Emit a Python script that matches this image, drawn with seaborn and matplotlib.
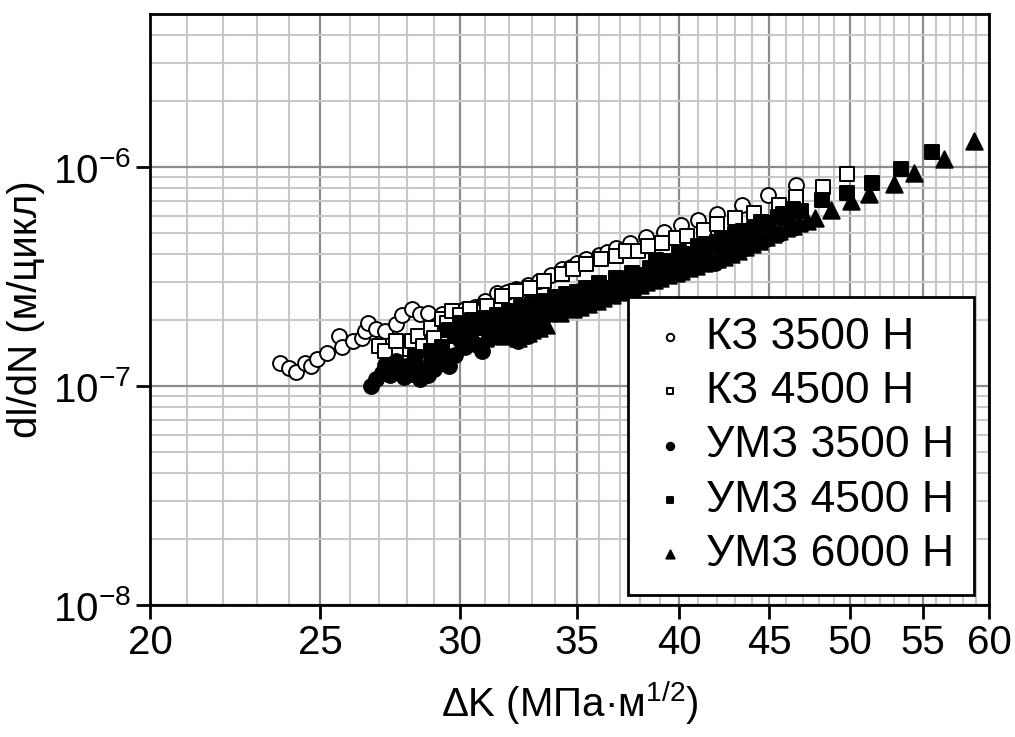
import numpy as np
import pandas as pd
import seaborn as sns
import matplotlib.pyplot as plt
from matplotlib.ticker import FixedLocator, NullFormatter, LogLocator, FuncFormatter

# da/dN values below are in units of 1e-7 m/cycle

# КЗ 3500 Н (open circles)
kz3500_dk = [23.7, 24.0, 24.2, 24.5, 24.7, 24.9, 25.2, 25.6, 25.7, 26.1, 26.4, 26.5, 26.6, 26.9,
             27.2, 27.6, 27.8, 28.2, 28.5, 28.8, 29.3, 29.8, 30.2, 30.6, 31.0, 31.5, 31.9, 32.3,
             32.8, 33.3, 33.8, 34.3, 34.7, 35.0, 35.4, 36.0, 36.4, 36.8, 37.5, 38.3, 39.2, 40.1,
             41.0, 42.0, 43.4, 44.9, 46.6]
kz3500_v = [1.28, 1.21, 1.16, 1.28, 1.24, 1.33, 1.42, 1.70, 1.50, 1.61, 1.66, 1.79, 1.95, 1.83,
            1.79, 1.93, 2.10, 2.25, 2.14, 2.16, 2.14, 2.20, 2.25, 2.30, 2.45, 2.67, 2.70, 2.78,
            2.90, 3.03, 3.20, 3.43, 3.50, 3.65, 3.81, 3.95, 4.10, 4.28, 4.51, 4.80, 5.06, 5.44,
            5.74, 6.11, 6.71, 7.45, 8.28]

# КЗ 4500 Н (open squares)
kz4500_dk = [27.0, 27.2, 27.6, 28.1, 28.2, 28.4, 28.6, 28.9, 29.0, 29.3, 29.5, 29.7, 30.0, 30.4,
             31.1, 31.7, 32.3, 32.9, 33.5, 34.3, 34.8, 35.4, 36.1, 36.8, 37.3, 37.9, 38.4, 39.1,
             39.8, 40.4, 41.3, 42.0, 43.0, 44.1, 45.6, 46.6, 48.3, 49.8]
kz4500_v = [1.53, 1.45, 1.61, 1.48, 1.61, 1.70, 1.53, 1.85, 1.66, 2.03, 1.95, 2.21, 2.10, 2.25,
            2.33, 2.58, 2.72, 2.81, 3.03, 3.25, 3.43, 3.61, 3.81, 3.93, 4.14, 4.14, 4.37, 4.51,
            4.75, 4.85, 5.16, 5.50, 5.86, 6.17, 6.71, 7.30, 8.10, 9.29]

# УМЗ 3500 Н (filled circles)
umz3500_dk = [26.7, 26.9, 27.1, 27.2, 27.4, 27.6, 27.7, 27.9, 28.0, 28.2, 28.4, 28.5, 28.8, 28.9,
              29.0, 29.3, 29.4, 29.6, 29.8, 30.0, 30.2, 30.4, 30.6, 30.9, 31.2, 31.4, 31.6, 31.8,
              32.0, 32.2, 32.4, 32.6, 32.8, 33.1, 33.3, 33.6, 33.8, 34.1, 34.4, 34.6, 35.0, 35.2,
              35.5, 35.8, 36.0, 36.3, 36.5, 37.0, 37.2, 37.5, 38.0, 38.2, 38.6, 39.0, 39.2, 39.4,
              40.0, 40.4, 40.8, 41.0, 41.4, 41.9, 42.3, 42.7, 43.1, 43.6, 44.2, 44.8, 45.6, 46.4]
umz3500_v = [1.00, 1.08, 1.15, 1.25, 1.12, 1.30, 1.18, 1.10, 1.24, 1.14, 1.20, 1.08, 1.12, 1.30,
             1.20, 1.28, 1.40, 1.24, 1.38, 1.62, 1.50, 1.70, 1.55, 1.45, 1.66, 1.85, 1.78, 1.92,
             1.72, 1.85, 1.60, 1.95, 1.70, 1.90, 2.05, 2.10, 2.15, 2.20, 2.28, 2.30, 2.38, 2.42,
             2.48, 2.55, 2.58, 2.65, 2.68, 2.80, 2.84, 2.88, 3.00, 3.08, 3.19, 3.25, 3.32, 3.36,
             3.45, 3.60, 3.54, 3.85, 3.73, 3.65, 4.05, 4.14, 4.40, 4.27, 4.50, 4.70, 4.96, 5.28]

# УМЗ 4500 Н (filled squares)
umz4500_dk = [28.3, 28.9, 29.3, 29.6, 29.8, 30.0, 30.2, 30.5, 30.8, 31.0, 31.3, 31.5, 31.8, 32.0,
              32.3, 32.5, 32.8, 33.0, 33.3, 33.5, 33.8, 34.0, 34.3, 34.5, 34.8, 35.0, 35.4, 35.7,
              36.0, 36.4, 36.8, 37.2, 37.6, 38.0, 38.5, 38.8, 39.0, 39.5, 39.9, 40.0, 40.2, 40.8,
              41.0, 41.4, 41.8, 42.0, 42.3, 42.8, 43.0, 43.5, 43.8, 44.1, 44.5, 44.8, 45.0, 45.5,
              45.8, 46.1, 46.4, 46.9, 48.2, 49.8, 51.5, 53.5, 55.7]
umz4500_v = [1.35, 1.45, 1.50, 1.80, 1.70, 1.95, 1.80, 2.00, 1.85, 2.05, 1.95, 2.10, 2.00, 2.20,
             2.10, 2.30, 2.15, 2.38, 2.20, 2.45, 2.30, 2.55, 2.40, 2.62, 2.48, 2.70, 2.81, 2.65,
             2.95, 2.80, 3.12, 3.00, 3.29, 3.20, 3.46, 3.75, 3.50, 3.73, 3.65, 4.10, 3.93, 4.00,
             4.35, 4.14, 4.40, 4.55, 4.75, 4.60, 4.95, 5.11, 4.90, 5.20, 5.60, 5.50, 5.55, 5.90,
             6.10, 5.86, 6.40, 6.30, 7.07, 7.61, 8.46, 9.79, 11.7]

# УМЗ 6000 Н (filled triangles)
umz6000_dk = [31.0, 31.4, 31.8, 32.0, 32.4, 32.8, 33.0, 33.3, 33.6, 34.2, 34.8, 35.1, 35.5, 35.9,
              36.2, 36.6, 36.9, 37.3, 37.6, 38.0, 38.3, 38.7, 39.0, 39.4, 39.8, 40.1, 40.5, 40.9,
              41.3, 41.7, 42.0, 42.4, 42.8, 43.2, 43.6, 44.0, 44.4, 44.8, 45.2, 45.6, 46.0, 46.4,
              46.8, 47.3, 47.8, 48.8, 50.1, 51.3, 53.0, 54.4, 56.6, 58.8]
umz6000_v = [1.65, 1.72, 1.70, 1.78, 1.65, 1.75, 1.80, 1.85, 1.90, 2.15, 2.25, 2.30, 2.38, 2.45,
             2.52, 2.60, 2.68, 2.75, 2.82, 2.90, 2.98, 3.05, 3.12, 3.20, 3.28, 3.35, 3.45, 3.55,
             3.65, 3.72, 3.80, 3.90, 4.02, 4.15, 4.30, 4.45, 4.60, 4.78, 4.95, 5.10, 5.28, 5.40,
             5.55, 5.70, 5.86, 6.37, 7.00, 7.53, 8.37, 9.39, 10.9, 13.1]

x_ticks = [20, 25, 30, 35, 40, 45, 50, 55, 60]

series = [
    ("КЗ 3500 Н", kz3500_dk, kz3500_v, "o", "white", 115),
    ("КЗ 4500 Н", kz4500_dk, kz4500_v, "s", "white", 100),
    ("УМЗ 3500 Н", umz3500_dk, umz3500_v, "o", "black", 115),
    ("УМЗ 4500 Н", umz4500_dk, umz4500_v, "s", "black", 100),
    ("УМЗ 6000 Н", umz6000_dk, umz6000_v, "^", "black", 140),
]

sns.set_style("white")
plt.rcParams['font.family'] = ['Liberation Sans', 'DejaVu Sans']
plt.rcParams['mathtext.fontset'] = 'custom'
plt.rcParams['mathtext.rm'] = 'Liberation Sans'
plt.rcParams['mathtext.it'] = 'Liberation Sans'
plt.rcParams['text.color'] = 'black'
plt.rcParams['axes.labelcolor'] = 'black'

fig = plt.figure(figsize=(10.15, 7.37), dpi=100)
ax = fig.add_axes([0.1478, 0.1791, 0.8266, 0.8019])

for label, dk, v, m, fc, s in series:
    df = pd.DataFrame({"dk": dk, "v": np.array(v) * 1e-7})
    sns.scatterplot(data=df, x="dk", y="v", marker=m, s=s, color=fc,
                    edgecolor="black", linewidth=1.4, label=label, ax=ax, zorder=3)

ax.set_xscale("log")
ax.set_yscale("log")
ax.set_xlim(20, 60)
ax.set_ylim(1e-8, 5e-6)

ax.xaxis.set_major_locator(FixedLocator(x_ticks))
ax.xaxis.set_major_formatter(FuncFormatter(lambda v, p: f"{v:.0f}"))
ax.xaxis.set_minor_locator(FixedLocator([k for k in range(21, 60) if k % 5 != 0]))
ax.xaxis.set_minor_formatter(NullFormatter())
ax.yaxis.set_major_locator(FixedLocator([1e-8, 1e-7, 1e-6]))
ax.yaxis.set_major_formatter(FuncFormatter(lambda v, p: f"$10^{{{int(round(np.log10(v)))}}}$"))
ax.yaxis.set_minor_locator(LogLocator(base=10, subs=np.arange(2, 10)))
ax.yaxis.set_minor_formatter(NullFormatter())

ax.grid(True, which="major", color="#8c8c8c", linewidth=1.6, zorder=0)
ax.grid(True, which="minor", color="#c8c8c8", linewidth=1.5, zorder=0)
ax.set_axisbelow(True)

ax.tick_params(which="major", direction="out", length=10, width=2, labelsize=29,
               bottom=True, left=True, top=False, right=False, colors="black")
ax.tick_params(which="minor", length=0)
for sp in ax.spines.values():
    sp.set_color("black")
    sp.set_linewidth(2)

ax.set_xlabel("ΔK (МПа·м$^{1/2}$)", fontsize=29, labelpad=12)
ax.set_ylabel("dl/dN (м/цикл)", fontsize=29, labelpad=6)

leg = ax.legend(loc="lower right", bbox_to_anchor=(0.982, 0.017), borderaxespad=0,
                fontsize=32, markerscale=0.5, frameon=True, fancybox=False,
                edgecolor="black", framealpha=1, labelspacing=0.3, handletextpad=0.3,
                handlelength=1.0, borderpad=0.45)
leg.get_frame().set_linewidth(2)

fig.savefig("out.png", dpi=100)
